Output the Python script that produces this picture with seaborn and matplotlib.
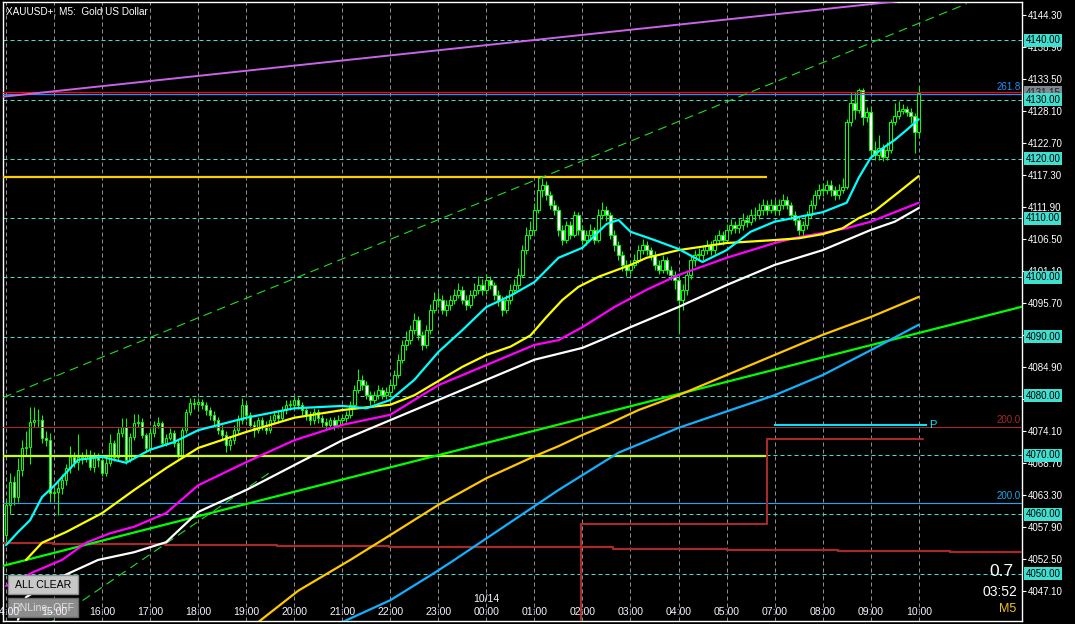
import matplotlib
matplotlib.use("Agg")
import matplotlib.pyplot as plt
from matplotlib.patches import Rectangle
import numpy as np
import pandas as pd
import seaborn as sns

sns.set_style("dark")
plt.rcParams['font.family'] = ['Liberation Sans', 'DejaVu Sans']

W, H = 1075, 624

# ---------------- data ----------------
title = "XAUUSD+, M5:  Gold US Dollar"
hour_labels = ["14:00", "15:00", "16:00", "17:00", "18:00", "19:00", "20:00", "21:00", "22:00", "23:00",
               "00:00", "01:00", "02:00", "03:00", "04:00", "05:00", "07:00", "08:00", "09:00", "10:00"]
hour_bars = [0, 12, 24, 36, 48, 60, 72, 84, 96, 108, 120, 132, 144, 156, 168, 180, 192, 204, 216, 228]
date_label = "10/14"
date_bar = 120
price_ticks = [4144.30, 4138.90, 4133.50, 4128.10, 4122.70, 4117.30, 4111.90, 4106.50, 4101.10, 4095.70,
               4090.30, 4084.90, 4079.50, 4074.10, 4068.70, 4063.30, 4057.90, 4052.50, 4047.10]
hidden_ticks = [4090.30, 4079.50]
round_levels = [4140, 4130, 4120, 4110, 4100, 4090, 4080, 4070, 4060, 4050]
bid_price = 4131.15

first_open = 4056.5
closes = [
    4061.6, 4065.5, 4062.9, 4067.5, 4071.2, 4071.4, 4075.6, 4075.9, 4075.9, 4072.9, 4072.5, 4063.6,
    4063.8, 4064.4, 4065.8, 4067.8, 4069.7, 4068.8, 4069.7, 4069.5, 4070.0, 4068.0, 4069.7, 4069.2,
    4067.0, 4068.7, 4072.0, 4069.7, 4073.7, 4074.7, 4069.2, 4073.1, 4075.4, 4075.6, 4073.4, 4071.2,
    4073.7, 4075.1, 4075.4, 4072.0, 4072.9, 4073.7, 4072.0, 4070.0, 4074.2, 4077.3, 4078.8, 4078.6,
    4079.0, 4078.5, 4077.6, 4076.8, 4075.9, 4074.2, 4073.4, 4071.7, 4072.5, 4074.2, 4075.9, 4078.5,
    4076.8, 4075.1, 4074.2, 4075.9, 4075.1, 4074.2, 4075.9, 4076.8, 4076.3, 4077.6, 4078.5, 4078.5,
    4079.3, 4078.5, 4077.6, 4076.8, 4075.9, 4077.3, 4076.3, 4075.6, 4075.1, 4075.9, 4075.1, 4075.9,
    4076.3, 4076.8, 4078.5, 4081.0, 4082.7, 4081.8, 4080.1, 4079.3, 4080.1, 4081.0, 4080.1, 4080.7,
    4081.8, 4083.5, 4086.1, 4088.6, 4089.4, 4091.1, 4092.8, 4090.3, 4088.6, 4091.1, 4094.5, 4096.2,
    4096.2, 4094.5, 4095.3, 4096.2, 4097.0, 4097.9, 4096.2, 4095.3, 4097.0, 4097.9, 4098.7, 4097.9,
    4099.6, 4098.7, 4097.0, 4096.2, 4094.5, 4096.2, 4097.9, 4098.7, 4100.4, 4104.6, 4107.2, 4108.0,
    4111.4, 4114.8, 4115.6, 4113.9, 4112.2, 4111.4, 4108.0, 4106.3, 4108.8, 4107.2, 4110.5, 4108.0,
    4106.3, 4107.2, 4108.0, 4106.3, 4110.5, 4111.4, 4110.5, 4107.2, 4105.5, 4103.8, 4102.1, 4101.3,
    4102.1, 4102.9, 4104.6, 4105.5, 4104.6, 4103.8, 4102.1, 4101.3, 4102.9, 4101.3, 4100.4, 4099.6,
    4096.2, 4097.9, 4100.4, 4102.9, 4103.8, 4103.8, 4104.6, 4105.5, 4104.6, 4106.3, 4107.2, 4106.3,
    4108.0, 4108.8, 4108.3, 4108.8, 4109.7, 4109.3, 4110.5, 4110.5, 4111.4, 4112.2, 4111.4, 4112.2,
    4111.4, 4112.2, 4113.1, 4112.2, 4110.5, 4109.7, 4108.0, 4108.8, 4110.5, 4112.2, 4113.9, 4114.8,
    4114.8, 4115.6, 4114.8, 4113.9, 4114.8, 4115.3, 4126.3, 4129.5, 4128.3, 4131.6, 4127.1, 4127.9,
    4121.5, 4120.7, 4121.8, 4120.3, 4121.5, 4126.2, 4127.2, 4128.1, 4128.5, 4127.9, 4127.2, 4124.6,
    4131.15,
]
highs = [
    4062.5, 4067.0, 4066.5, 4069.5, 4072.5, 4074.0, 4078.2, 4078.2, 4077.8, 4076.8, 4074.0, 4073.8,
    4065.0, 4065.5, 4066.8, 4068.5, 4071.5, 4070.5, 4073.5, 4070.5, 4071.0, 4070.8, 4070.5, 4070.3,
    4070.0, 4069.5, 4073.5, 4072.5, 4074.5, 4076.2, 4076.2, 4073.8, 4077.0, 4077.0, 4076.2, 4073.8,
    4074.5, 4075.8, 4076.5, 4075.8, 4073.5, 4074.5, 4074.2, 4072.5, 4074.8, 4077.8, 4079.6, 4079.6,
    4079.6, 4079.5, 4079.0, 4078.2, 4077.5, 4076.5, 4075.0, 4074.0, 4073.2, 4075.0, 4076.8, 4079.6,
    4079.0, 4077.3, 4075.8, 4076.5, 4076.5, 4075.8, 4076.8, 4077.5, 4077.5, 4078.3, 4079.3, 4079.3,
    4080.0, 4079.8, 4079.0, 4078.2, 4077.5, 4078.0, 4077.8, 4076.8, 4076.3, 4076.5, 4076.5, 4076.8,
    4077.0, 4077.5, 4079.2, 4081.8, 4084.5, 4083.5, 4082.5, 4080.8, 4080.8, 4081.8, 4081.5, 4081.5,
    4082.5, 4084.3, 4087.0, 4089.5, 4091.0, 4092.0, 4094.0, 4093.5, 4091.0, 4092.0, 4095.5, 4097.5,
    4097.5, 4097.0, 4096.2, 4097.0, 4098.0, 4099.0, 4098.5, 4097.0, 4097.8, 4099.0, 4100.2, 4099.8,
    4100.5, 4100.3, 4099.2, 4097.8, 4096.8, 4097.0, 4098.8, 4099.8, 4101.5, 4105.5, 4108.5, 4109.5,
    4112.5, 4116.8, 4116.8, 4116.2, 4114.5, 4113.0, 4112.0, 4108.8, 4109.5, 4109.5, 4111.2, 4111.0,
    4108.8, 4108.0, 4109.0, 4108.5, 4111.5, 4112.8, 4112.0, 4111.0, 4108.0, 4106.2, 4104.5, 4103.0,
    4103.0, 4104.0, 4105.5, 4106.5, 4106.2, 4105.2, 4104.5, 4103.0, 4103.8, 4103.5, 4102.0, 4101.0,
    4100.2, 4098.8, 4101.2, 4103.8, 4104.6, 4105.0, 4105.5, 4106.3, 4106.2, 4107.2, 4108.0, 4107.8,
    4109.0, 4109.8, 4109.5, 4110.0, 4110.8, 4110.5, 4111.5, 4111.8, 4112.5, 4113.2, 4113.0, 4113.2,
    4113.0, 4113.2, 4114.0, 4113.8, 4112.8, 4111.2, 4110.2, 4109.5, 4111.2, 4113.0, 4114.8, 4115.8,
    4116.0, 4116.5, 4116.5, 4115.5, 4115.8, 4116.8, 4126.8, 4131.3, 4131.3, 4131.9, 4131.9, 4128.8,
    4129.0, 4123.0, 4124.0, 4122.5, 4122.8, 4126.8, 4129.5, 4129.8, 4129.3, 4129.0, 4128.6, 4127.8,
    4132.3,
]
lows = [
    4055.3, 4060.0, 4061.5, 4062.0, 4066.5, 4070.0, 4068.5, 4074.8, 4074.8, 4072.0, 4071.5, 4062.1,
    4062.5, 4059.9, 4063.5, 4065.0, 4067.0, 4068.0, 4067.5, 4068.5, 4068.8, 4067.5, 4067.2, 4068.0,
    4066.5, 4066.5, 4068.2, 4069.0, 4069.0, 4073.0, 4068.5, 4068.8, 4072.5, 4074.8, 4072.8, 4070.5,
    4070.8, 4073.0, 4074.5, 4071.5, 4071.5, 4072.5, 4071.3, 4069.5, 4069.5, 4073.8, 4076.8, 4077.8,
    4077.5, 4077.8, 4076.8, 4076.0, 4075.0, 4073.5, 4072.5, 4070.5, 4070.8, 4071.8, 4073.5, 4075.2,
    4076.0, 4074.5, 4073.0, 4073.8, 4074.3, 4073.5, 4073.8, 4075.2, 4075.5, 4075.8, 4077.0, 4077.6,
    4077.8, 4077.8, 4076.8, 4076.0, 4075.0, 4075.2, 4075.5, 4074.8, 4074.3, 4074.5, 4074.3, 4074.6,
    4075.2, 4075.6, 4076.3, 4078.0, 4080.5, 4081.0, 4079.5, 4078.5, 4078.8, 4079.5, 4079.5, 4079.5,
    4080.0, 4081.2, 4083.0, 4085.5, 4087.8, 4088.8, 4090.5, 4089.5, 4087.8, 4088.0, 4090.5, 4094.0,
    4095.0, 4093.8, 4093.5, 4094.5, 4095.5, 4096.5, 4095.5, 4094.5, 4094.8, 4096.5, 4097.2, 4097.0,
    4097.2, 4098.0, 4096.2, 4095.2, 4093.5, 4094.0, 4095.5, 4097.2, 4098.0, 4100.0, 4104.0, 4106.5,
    4107.5, 4110.8, 4113.5, 4113.0, 4111.5, 4110.5, 4107.0, 4105.5, 4105.8, 4106.5, 4106.8, 4107.2,
    4105.5, 4105.5, 4106.5, 4105.6, 4106.0, 4109.8, 4109.5, 4106.5, 4104.5, 4103.0, 4101.0, 4100.2,
    4100.5, 4101.5, 4102.5, 4104.0, 4103.8, 4103.0, 4101.2, 4100.5, 4100.8, 4100.5, 4099.5, 4098.0,
    4090.6, 4094.5, 4097.0, 4099.8, 4102.0, 4102.8, 4103.0, 4104.0, 4103.8, 4104.0, 4105.6, 4105.5,
    4105.8, 4107.3, 4107.5, 4107.5, 4108.0, 4108.5, 4108.8, 4109.5, 4109.8, 4110.5, 4110.6, 4110.8,
    4110.5, 4110.6, 4111.5, 4111.5, 4109.8, 4108.8, 4107.2, 4107.2, 4108.2, 4110.0, 4111.5, 4113.2,
    4113.8, 4114.0, 4113.8, 4113.0, 4113.2, 4114.2, 4115.0, 4125.5, 4126.8, 4127.8, 4125.8, 4126.3,
    4120.2, 4119.8, 4119.9, 4119.6, 4119.8, 4121.0, 4125.8, 4126.8, 4127.5, 4127.2, 4126.0, 4121.0,
    4123.5,
]

# moving averages (bar index, price)
ma_cyan_idx = [0, 3, 6, 9, 12, 18, 24, 30, 36, 42, 48, 60, 72, 84, 90, 96, 102, 108, 114, 120, 126, 132,
               138, 144, 150, 153, 156, 162, 168, 174, 180, 186, 192, 198, 204, 210, 213, 216, 219, 222, 225, 228]
ma_cyan_val = [4054.8, 4057.0, 4059.0, 4062.9, 4064.8, 4069.2, 4069.7, 4068.7, 4070.9, 4072.2, 4074.2,
               4076.3, 4077.9, 4078.3, 4077.9, 4079.3, 4082.7, 4087.4, 4091.1, 4095.0, 4096.9, 4099.2,
               4103.3, 4105.0, 4109.0, 4109.7, 4107.7, 4106.3, 4104.8, 4102.6, 4104.6, 4107.7, 4109.4,
               4110.2, 4111.0, 4112.6, 4116.8, 4120.2, 4121.8, 4123.2, 4124.9, 4126.7]
ma_yellow_idx = [5, 9, 15, 24, 32, 40, 48, 60, 72, 84, 96, 102, 108, 114, 120, 126, 131, 135, 139, 143,
                 148, 156, 160, 168, 180, 192, 198, 204, 209, 213, 217, 223, 228]
ma_yellow_val = [4052.3, 4055.2, 4057.0, 4060.2, 4064.1, 4067.8, 4071.2, 4073.9, 4076.3, 4077.6, 4078.5,
                 4080.1, 4082.5, 4084.9, 4086.9, 4088.3, 4090.2, 4093.3, 4096.2, 4098.4, 4100.1, 4102.1,
                 4103.3, 4104.6, 4105.8, 4106.3, 4106.6, 4107.3, 4108.3, 4110.0, 4111.2, 4114.4, 4117.1]
ma_magenta_idx = [0, 7, 14, 20, 26, 32, 40, 48, 60, 72, 84, 96, 108, 120, 132, 138, 144, 152, 160, 168,
                  180, 192, 198, 204, 210, 216, 222, 228]
ma_magenta_val = [4047.9, 4050.3, 4052.3, 4055.2, 4056.8, 4057.9, 4060.2, 4064.9, 4068.8, 4072.5, 4075.1,
                  4076.8, 4081.8, 4085.2, 4088.6, 4089.4, 4091.6, 4095.0, 4097.9, 4100.4, 4103.3, 4105.8,
                  4106.8, 4107.5, 4108.3, 4109.4, 4111.0, 4112.6]
ma_white_idx = [3, 5, 12, 23, 32, 40, 48, 60, 72, 84, 96, 108, 120, 132, 144, 150, 156, 162, 168, 180,
                192, 204, 210, 216, 222, 228]
ma_white_val = [4042.2, 4046.0, 4048.9, 4052.3, 4053.6, 4055.3, 4060.4, 4064.1, 4068.3, 4072.5, 4075.9,
                4079.3, 4082.7, 4086.1, 4088.1, 4089.8, 4091.6, 4093.3, 4095.0, 4098.7, 4102.1, 4104.6,
                4106.3, 4108.0, 4109.4, 4111.7]
ma_orange_idx = [63, 73, 86, 96, 108, 120, 132, 138, 144, 150, 158, 168, 180, 192, 204, 216, 228]
ma_orange_val = [4041.8, 4047.1, 4052.3, 4056.5, 4061.6, 4066.1, 4069.8, 4071.5, 4073.4, 4075.1, 4077.6,
                 4080.1, 4083.5, 4086.9, 4090.3, 4093.3, 4096.7]
ma_blue_idx = [84, 96, 107, 112, 138, 153, 168, 181, 192, 204, 216, 228]
ma_blue_val = [4041.8, 4045.5, 4050.1, 4052.3, 4064.1, 4070.4, 4074.6, 4077.6, 4080.1, 4083.5, 4087.7, 4092.0]

# drawn objects (bar index, price)
purple_trend = ([-0.75, 222.5], [4130.5, 4146.6])
green_trend = ([-0.75, 253.8], [4051.3, 4095.05])
green_dash_upper = ([-0.75, 240.0], [4079.7, 4146.2])
green_dash_lower = ([8.0, 66.0], [4040.3, 4067.1])
gold_hline = (4116.9, -0.75, 190.1)
lime_hline = (4069.9, -0.75, 190.1)
red_bid_line = 4131.25
fibo_blue_line = 4130.96
fibo_brown_line = 4074.74
fibo_blue2_line = 4061.9
pivot_line = (4075.1, 191.9, 230.0)
brown_steps_idx = [-0.75, 11.7, 39.7, 67.7, 95.7, 123.7, 151.6, 180.1, 207.8, 235.8, 253.8]
brown_steps_val = [4055.2, 4055.0, 4054.8, 4054.7, 4054.55, 4054.43, 4054.2, 4054.0, 4053.85, 4053.7, 4053.7]
brown2_idx = [-0.75, 143.6, 190.1, 229.0]
brown2_val = [4040.0, 4058.4, 4072.7, 4072.7]

# ---------------- figure ----------------
fig = plt.figure(figsize=(W / 100, H / 100), dpi=100, facecolor='black')
ax = fig.add_axes([3 / W, 3 / H, (1022 - 3) / W, (621 - 2) / H])
ax.set_facecolor('black')
XMIN, XMAX = -0.75, 253.8
YMIN, YMAX = 4041.99, 4146.49
ax.set_xlim(XMIN, XMAX)
ax.set_ylim(YMIN, YMAX)
ax.grid(False)
for s in ax.spines.values():
    s.set_color('white')
    s.set_linewidth(1.0)

def fx(px):
    return px / W

def fy(py):
    return 1 - py / H

# grid
for b in hour_bars:
    ax.axvline(b, color='#8c8c8c', lw=0.72, ls=(0, (4, 3)), zorder=1)
for lv in round_levels:
    ax.axhline(lv, color='#40E0D0', lw=0.72, ls=(0, (4, 3)), zorder=1)

# candles
n = len(closes)
idx = np.arange(n)
o = np.array([first_open] + closes[:-1])
c = np.array(closes)
ax.vlines(idx, lows, highs, color='#00FF00', lw=0.75, zorder=2)
bull = c >= o
ax.bar(idx, np.maximum(np.abs(c - o), 0.1), bottom=np.minimum(o, c), width=0.62,
       color=np.where(bull, 'black', 'white'), edgecolor='#00FF00', linewidth=0.72, zorder=2.2)

# horizontal objects
ax.axhline(red_bid_line, color='#FF0000', lw=0.9, zorder=3)
ax.axhline(fibo_blue_line, color='#1E90FF', lw=0.9, zorder=3)
ax.axhline(fibo_brown_line, color='#A52A2A', lw=0.8, zorder=3)
ax.axhline(fibo_blue2_line, color='#1EA8F0', lw=0.8, zorder=3)
ax.hlines(gold_hline[0], gold_hline[1], gold_hline[2], color='#FFCC00', lw=1.6, zorder=3)
ax.hlines(lime_hline[0], lime_hline[1], lime_hline[2], color='#CCFF00', lw=1.6, zorder=3)
ax.hlines(pivot_line[0], pivot_line[1], pivot_line[2], color='#00E5FF', lw=1.5, zorder=3)
ax.step(brown_steps_idx, brown_steps_val, where='post', color='#A52A2A', lw=1.6, zorder=3)
ax.step(brown2_idx, brown2_val, where='post', color='#A52A2A', lw=1.5, zorder=3)

# trend lines
ax.plot(*purple_trend, color='#C864E6', lw=1.4, zorder=3)
ax.plot(*green_trend, color='#00FF00', lw=1.6, zorder=3.5)
ax.plot(*green_dash_upper, color='#22DD22', lw=0.8, ls=(0, (8, 5)), zorder=3)
ax.plot(*green_dash_lower, color='#22DD22', lw=0.8, ls=(0, (8, 5)), zorder=3)

# moving averages via seaborn
ma_sets = [
    (ma_orange_idx, ma_orange_val, '#FFC800'),
    (ma_blue_idx, ma_blue_val, '#12B0FF'),
    (ma_white_idx, ma_white_val, '#FFFFFF'),
    (ma_magenta_idx, ma_magenta_val, '#FF00FF'),
    (ma_yellow_idx, ma_yellow_val, '#FFFF00'),
    (ma_cyan_idx, ma_cyan_val, '#00FFFF'),
]
for xi, yv, col in ma_sets:
    df = pd.DataFrame({'bar': xi, 'price': yv})
    sns.lineplot(data=df, x='bar', y='price', color=col, lw=1.6, ax=ax, legend=False,
                 estimator=None, sort=False, zorder=4)
ax.set_xlabel('')
ax.set_ylabel('')

# axes ticks
ax.set_xticks([])
ax.yaxis.tick_right()
ax.set_yticks(price_ticks)
ax.set_yticklabels(["" if p in hidden_ticks else f"{p:.2f}" for p in price_ticks])
ax.tick_params(axis='y', colors='white', direction='out', length=3, width=0.8, labelsize=7, pad=1.2,
               right=True, left=False, labelright=True, labelleft=False)
ax.set_ylim(YMIN, YMAX)

# round level boxes
for lv in round_levels:
    ax.text(1.0033, lv, f"{lv:.2f}", transform=ax.get_yaxis_transform(), ha='left', va='center',
            fontsize=7, color='black', zorder=10, clip_on=False,
            bbox=dict(boxstyle='square,pad=0.15', fc='#40E0D0', ec='none'))
ax.text(1.0033, bid_price, f"{bid_price:.2f}", transform=ax.get_yaxis_transform(), ha='left', va='center',
        fontsize=7, color='#202020', zorder=9, clip_on=False,
        bbox=dict(boxstyle='square,pad=0.15', fc='#808890', ec='none'))

# level labels
tr = ax.get_yaxis_transform()
ax.text(0.9985, fibo_blue_line + 0.35, "261.8", transform=tr, ha='right', va='bottom', fontsize=7,
        color='#1E90FF', zorder=6)
ax.text(0.9985, fibo_brown_line + 0.35, "200.0", transform=tr, ha='right', va='bottom', fontsize=7,
        color='#A52A2A', zorder=6)
ax.text(0.9985, fibo_blue2_line + 0.35, "200.0", transform=tr, ha='right', va='bottom', fontsize=7,
        color='#1EA8F0', zorder=6)
ax.text(pivot_line[2] + 0.6, pivot_line[0], "P", ha='left', va='center', fontsize=8, color='#00E5FF', zorder=6)

# title
fig.text(fx(6), fy(12), title, ha='left', va='center', fontsize=7.2, color='white', zorder=10)

# buttons
fig.patches.append(Rectangle((fx(8), fy(594)), 70 / W, 19 / H, transform=fig.transFigure,
                             fc='#C8C8C8', ec='#909090', lw=1.0, zorder=20))
fig.text(fx(43), fy(584.5), "ALL CLEAR", ha='center', va='center', fontsize=7.6, color='black', zorder=21)
fig.patches.append(Rectangle((fx(8), fy(617)), 70 / W, 19 / H, transform=fig.transFigure,
                             fc='#8C8C8C', ec='#6a6a6a', lw=1.0, zorder=20))
fig.text(fx(43), fy(607.5), "RNLine_OFF", ha='center', va='center', fontsize=7.6, color='#E0E0E0', zorder=21)

# time labels (drawn above the buttons, as in the terminal)
x0px, pxb = 3.0, 1019.0 / (XMAX - XMIN)
for b, lab in zip(hour_bars, hour_labels):
    fig.text(fx(x0px + (b - XMIN) * pxb), fy(612), lab, ha='center', va='center', fontsize=7.6,
             color='#F4F4FF', zorder=22)
fig.text(fx(x0px + (date_bar - XMIN) * pxb), fy(599), date_label, ha='center', va='center', fontsize=7.6,
         color='#F4F4FF', zorder=22)

# bottom-right info
fig.text(fx(1001), fy(572), "0.7", ha='center', va='center', fontsize=12.5, color='white', zorder=21)
fig.text(fx(1000), fy(592), "03:52", ha='center', va='center', fontsize=10, color='white', zorder=21)
fig.text(fx(1008), fy(608.5), "M5", ha='center', va='center', fontsize=9, color='#F0C020', zorder=21)

fig.savefig("out.png", dpi=100, facecolor='black')
